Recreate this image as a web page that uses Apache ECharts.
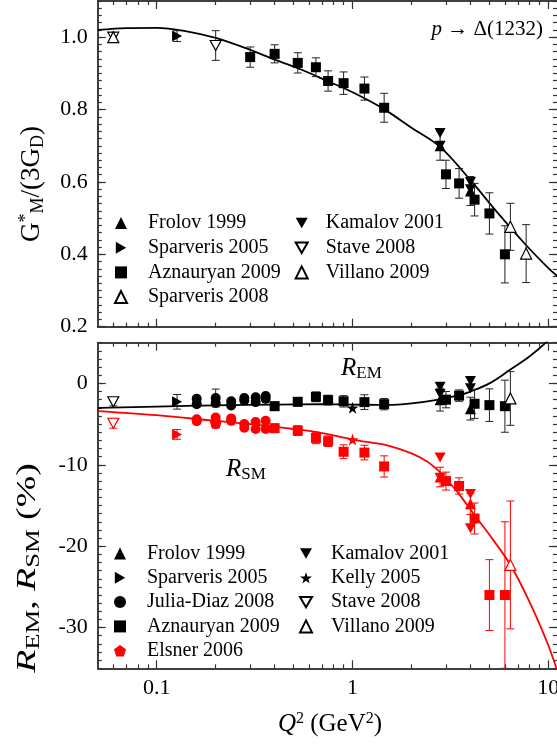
<!DOCTYPE html>
<html><head><meta charset="utf-8">
<script src="https://cdn.jsdelivr.net/npm/echarts@6/dist/echarts.min.js"></script>
<style>html,body{margin:0;padding:0;background:#fff}#c{width:557px;height:749px}</style>
</head><body><div id="c"></div>
<script>
// ---------- tick values ----------
const xMajorTicks = [0.1, 1, 10];
const xMinorTicks = [0.06,0.07,0.08,0.09,0.2,0.3,0.4,0.5,0.6,0.7,0.8,0.9,2,3,4,5,6,7,8,9];
const gmTickLabels = [0.2, 0.4, 0.6, 0.8, 1.0];
const rTickLabels = [-30, -20, -10, 0];

// ---------- top panel: G*_M/(3G_D) ----------
const frolovGM_Q = [2.8, 4.0];
const frolovGM = [0.70, 0.575];
const frolovGM_err = [0.04, 0.04];
const kamalovGM_Q = [2.8, 2.8, 4.0, 4.0];
const kamalovGM = [0.735, 0.70, 0.60, 0.58];
const sparv05GM_Q = [0.127];
const sparv05GM = [1.003];
const sparv05GM_err = [0.015];
const staveGM_Q = [0.06, 0.2];
const staveGM = [1.0, 0.977];
const staveGM_err = [0.012, 0.041];
const aznGM_Q = [0.3, 0.4, 0.525, 0.65, 0.75, 0.9, 1.15, 1.45, 3.0, 3.5, 4.2, 5.0, 6.0];
const aznGM = [0.945, 0.954, 0.929, 0.917, 0.879, 0.873, 0.858, 0.805, 0.621, 0.596, 0.551, 0.513, 0.40];
const aznGM_err = [0.028, 0.025, 0.028, 0.026, 0.028, 0.031, 0.032, 0.04, 0.039, 0.041, 0.045, 0.057, 0.079];
const villanoGM_Q = [6.4, 7.7];
const villanoGM = [0.476, 0.402];
const villanoGM_err = [0.065, 0.08];
const sparv08GM_Q = [0.06];
const sparv08GM = [1.0];
const sparv08GM_err = [0.012];
const gmCurveQ = [0.05, 0.07, 0.1, 0.14, 0.2, 0.3, 0.4, 0.55, 0.75, 1.0, 1.4, 2.0, 2.8, 4.0, 5.5, 7.5, 10, 12];
const gmCurve = [1.020, 1.025, 1.026, 1.017, 0.998, 0.965, 0.938, 0.910, 0.878, 0.848, 0.806, 0.750, 0.697, 0.605, 0.515, 0.432, 0.362, 0.325];

// ---------- bottom panel: R_EM (black), R_SM (red) ----------
const frolovR_Q = [2.8, 4.0];
const frolovREM = [-2.0, -3.1];
const frolovREM_err = [1.4, 1.4];
const frolovRSM = [-11.5, -14.8];
const frolovRSM_err = [1.2, 1.3];
const kamalovR_Q = [2.8, 2.8, 4.0, 4.0];
const kamalovREM = [-0.4, -1.3, 0.3, -0.6];
const kamalovRSM = [-9.1, -11.6, -13.6, -17.8];
const sparv05R_Q = [0.127];
const sparv05REM = [-2.26];
const sparv05REM_err = [0.9];
const sparv05RSM = [-6.27];
const sparv05RSM_err = [0.6];
const juliaR_Q = [0.16, 0.16, 0.2, 0.2, 0.24, 0.24, 0.28, 0.28, 0.32, 0.32, 0.36, 0.36];
const juliaREM = [-1.9, -2.55, -1.8, -2.4, -2.2, -2.7, -1.8, -2.1, -1.7, -2.3, -1.55, -1.9];
const juliaREM_err = [0, 0, 1.1, 0, 0, 0, 0, 0, 0, 0, 0, 0];
const juliaRSM = [-4.4, -4.65, -4.2, -5.0, -4.3, -4.6, -5.0, -5.45, -4.75, -5.6, -4.6, -5.6];
const aznR_Q = [0.4, 0.525, 0.65, 0.75, 0.9, 1.15, 1.45, 3.0, 3.5, 4.2, 5.0, 6.0];
const aznREM = [-2.8, -2.26, -1.65, -2.05, -2.2, -2.3, -2.55, -2.0, -1.5, -2.5, -2.67, -2.8];
const aznREM_err = [0.5, 0.5, 0.6, 0.6, 0.7, 0.9, 0.7, 1.0, 0.7, 1.8, 2.0, 3.2];
const aznRSM = [-5.5, -5.8, -6.7, -7.1, -8.4, -8.5, -10.2, -12.0, -12.6, -16.6, -26.0, -26.0];
const aznRSM_err = [0.5, 0.6, 0.7, 0.65, 0.85, 0.9, 1.3, 1.1, 1.0, 1.9, 4.35, 9.0];
const kellyR_Q = [1.0];
const kellyREM = [-3.0];
const kellyRSM = [-6.9];
const staveR_Q = [0.06];
const staveREM = [-2.26];
const staveREM_err = [0.5];
const staveRSM = [-4.9];
const staveRSM_err = [0.6];
const villanoR_Q = [6.4];
const villanoREM = [-1.85];
const villanoREM_err = [3.3];
const villanoRSM = [-22.3];
const villanoRSM_err = [7.85];
const elsnerR_Q = [0.2];
const elsnerRSM = [-4.8];
const elsnerRSM_err = [0.4];
const remCurveQ = [0.05, 0.1, 0.2, 0.4, 0.7, 1.0, 1.5, 2.0, 2.8, 3.5, 4.0, 5.0, 6.4, 8.0, 10, 12];
const remCurve = [-3.0, -2.85, -2.7, -2.6, -2.55, -2.6, -2.65, -2.45, -1.95, -1.45, -1.0, 0.0, 1.7, 3.3, 5.3, 7.3];
const rsmCurveQ = [0.05, 0.1, 0.2, 0.3, 0.5, 0.7, 1.0, 1.5, 2.0, 2.4, 2.8, 3.0, 3.5, 4.2, 5.0, 6.4, 8.0, 10, 12];
const rsmCurve = [-3.4, -3.9, -4.6, -5.0, -5.6, -6.1, -6.9, -7.6, -8.6, -9.6, -10.9, -11.7, -13.6, -16.2, -18.6, -22.3, -26.8, -32.2, -37.8];

// ---------- styling ----------
const RED = '#ff0000', BLK = '#000000', AX = '#333333';
const SERIF = "'Liberation Serif', 'DejaVu Serif', serif";
const X_MIN = 0.05, X_MAX = 11.07;
const SYM = {
  down: 'path://M0,0 L10,0 L5,8.66 Z',
  right: 'path://M0,0 L8.66,5 L0,10 Z',
  star: 'path://M50,0 L61.8,35.1 L98.1,35.1 L68.8,56.7 L79.4,90.9 L50,69.6 L20.6,90.9 L31.2,56.7 L1.9,35.1 L38.2,35.1 Z',
  pent: 'path://M50,0 L97.6,34.5 L79.4,90.5 L20.6,90.5 L2.4,34.5 Z'
};

function pts(q, v, style) {
  return q.map((x, i) => style ? { value: [x, v[i]], itemStyle: style } : [x, v[i]]);
}
function bars(q, v, e, flag) {
  const out = [];
  q.forEach((x, i) => { if (e[i] > 0) out.push([x, v[i] - e[i], v[i] + e[i], flag]); });
  return out;
}

const filled = c => ({ color: c, opacity: 1 });
const open = c => ({ color: '#ffffff', borderColor: c, borderWidth: 1.2, opacity: 1 });

function scatter(name, g, symbol, size, itemStyle, data) {
  return { type: 'scatter', name, xAxisIndex: g * 4, yAxisIndex: g * 4, symbol, symbolSize: size,
    itemStyle, data, z: 5, emphasis: { disabled: true } };
}
function curve(g, q, v, color) {
  return { type: 'line', xAxisIndex: g * 4, yAxisIndex: g * 4, data: pts(q, v), showSymbol: false,
    symbol: 'none', smooth: 0.35, lineStyle: { color, width: 1.8 }, z: 2, silent: true };
}
function errSeries(g, data) {
  return { type: 'custom', xAxisIndex: g * 4, yAxisIndex: g * 4, data, z: 3, clip: true, silent: true,
    encode: { x: 0, y: [1, 2] },
    renderItem(params, api) {
      const x = api.value(0);
      const lo = api.coord([x, api.value(1)]);
      const hi = api.coord([x, api.value(2)]);
      const stroke = api.value(3) ? RED : '#222';
      const w = 4;
      const st = { stroke, lineWidth: 1 };
      return { type: 'group', children: [
        { type: 'line', shape: { x1: lo[0], y1: lo[1], x2: hi[0], y2: hi[1] }, style: st },
        { type: 'line', shape: { x1: lo[0] - w, y1: lo[1], x2: lo[0] + w, y2: lo[1] }, style: st },
        { type: 'line', shape: { x1: hi[0] - w, y1: hi[1], x2: hi[0] + w, y2: hi[1] }, style: st }
      ]};
    }
  };
}

function xAx(g, position, ticks, len, showLabel) {
  return { type: 'log', logBase: 10, gridIndex: g, position, min: X_MIN, max: X_MAX,
    axisLine: { show: true, onZero: false, lineStyle: { color: AX, width: 1.5 } },
    axisTick: { show: true, inside: true, length: len, customValues: ticks, lineStyle: { color: AX, width: 1.2 } },
    axisLabel: { show: showLabel, customValues: ticks, margin: 9, fontFamily: SERIF, fontSize: 22, color: BLK,
      hideOverlap: false, formatter: v => String(+v) },
    splitLine: { show: false } };
}
function yAx(g, position, min, max, ticks, interval, len, showLabel) {
  const ax = { type: 'value', gridIndex: g, position, min, max,
    axisLine: { show: position === 'left', onZero: false, lineStyle: { color: AX, width: 1.5 } },
    axisTick: { show: true, inside: true, length: len, lineStyle: { color: AX, width: 1.2 } },
    axisLabel: { show: showLabel, margin: 10, fontFamily: SERIF, fontSize: 22, color: BLK,
      formatter: v => (min >= 0 ? (+v).toFixed(1) : String(Math.round(v))) },
    splitLine: { show: false } };
  if (ticks) { ax.axisTick.customValues = ticks; ax.axisLabel.customValues = ticks; }
  if (interval) { ax.interval = interval; }
  return ax;
}

const xAxis = [];
const yAxis = [];
[0, 1].forEach(g => {
  xAxis.push(xAx(g, 'bottom', xMajorTicks, 8, g === 1));
  xAxis.push(xAx(g, 'bottom', xMinorTicks, 4, false));
  xAxis.push(xAx(g, 'top', xMajorTicks, 8, false));
  xAxis.push(xAx(g, 'top', xMinorTicks, 4, false));
});
yAxis.push(yAx(0, 'left', 0.2, 1.1, gmTickLabels, null, 8, true));
yAxis.push(yAx(0, 'left', 0.2, 1.1, null, 0.02, 4, false));
yAxis.push(yAx(0, 'right', 0.2, 1.1, gmTickLabels, null, 8, false));
yAxis.push(yAx(0, 'right', 0.2, 1.1, null, 0.02, 4, false));
yAxis.push(yAx(1, 'left', -35, 5, rTickLabels, null, 8, true));
yAxis.push(yAx(1, 'left', -35, 5, null, 1, 4, false));
yAxis.push(yAx(1, 'right', -35, 5, rTickLabels, null, 8, false));
yAxis.push(yAx(1, 'right', -35, 5, null, 1, 4, false));

const series = [
  // top panel
  curve(0, gmCurveQ, gmCurve, BLK),
  errSeries(0, [].concat(
    bars(frolovGM_Q, frolovGM, frolovGM_err, 0),
    bars(sparv05GM_Q, sparv05GM, sparv05GM_err, 0),
    bars(staveGM_Q, staveGM, staveGM_err, 0),
    bars(aznGM_Q, aznGM, aznGM_err, 0),
    bars(villanoGM_Q, villanoGM, villanoGM_err, 0),
    bars(sparv08GM_Q, sparv08GM, sparv08GM_err, 0))),
  scatter('Frolov 1999', 0, 'triangle', 11, filled(BLK), pts(frolovGM_Q, frolovGM)),
  scatter('Kamalov 2001', 0, SYM.down, [11, 10], filled(BLK), pts(kamalovGM_Q, kamalovGM)),
  scatter('Sparveris 2005', 0, SYM.right, [10, 11], filled(BLK), pts(sparv05GM_Q, sparv05GM)),
  scatter('Stave 2008', 0, SYM.down, [11, 10], open(BLK), pts(staveGM_Q, staveGM)),
  scatter('Aznauryan 2009', 0, 'rect', 10, filled(BLK), pts(aznGM_Q, aznGM)),
  scatter('Villano 2009', 0, 'triangle', 11, open(BLK), pts(villanoGM_Q, villanoGM)),
  scatter('Sparveris 2008', 0, 'triangle', 11, open(BLK), pts(sparv08GM_Q, sparv08GM)),
  // bottom panel
  curve(1, remCurveQ, remCurve, BLK),
  curve(1, rsmCurveQ, rsmCurve, RED),
  errSeries(1, [].concat(
    bars(frolovR_Q, frolovREM, frolovREM_err, 0),
    bars(frolovR_Q, frolovRSM, frolovRSM_err, 1),
    bars(sparv05R_Q, sparv05REM, sparv05REM_err, 0),
    bars(sparv05R_Q, sparv05RSM, sparv05RSM_err, 1),
    bars(juliaR_Q, juliaREM, juliaREM_err, 0),
    bars(aznR_Q, aznREM, aznREM_err, 0),
    bars(aznR_Q, aznRSM, aznRSM_err, 1),
    bars(staveR_Q, staveREM, staveREM_err, 0),
    bars(staveR_Q, staveRSM, staveRSM_err, 1),
    bars(villanoR_Q, villanoREM, villanoREM_err, 0),
    bars(villanoR_Q, villanoRSM, villanoRSM_err, 1),
    bars(elsnerR_Q, elsnerRSM, elsnerRSM_err, 1))),
  scatter('Frolov 1999', 1, 'triangle', 11, filled(BLK),
    pts(frolovR_Q, frolovREM).concat(pts(frolovR_Q, frolovRSM, filled(RED)))),
  scatter('Kamalov 2001', 1, SYM.down, [11, 10], filled(BLK),
    pts(kamalovR_Q, kamalovREM).concat(pts(kamalovR_Q, kamalovRSM, filled(RED)))),
  scatter('Sparveris 2005', 1, SYM.right, [10, 11], filled(BLK),
    pts(sparv05R_Q, sparv05REM).concat(pts(sparv05R_Q, sparv05RSM, filled(RED)))),
  scatter('Kelly 2005', 1, SYM.star, 12, filled(BLK),
    pts(kellyR_Q, kellyREM).concat(pts(kellyR_Q, kellyRSM, filled(RED)))),
  scatter('Julia-Diaz 2008', 1, 'circle', 10, filled(BLK),
    pts(juliaR_Q, juliaREM).concat(pts(juliaR_Q, juliaRSM, filled(RED)))),
  scatter('Stave 2008', 1, SYM.down, [11, 10], open(BLK),
    pts(staveR_Q, staveREM).concat(pts(staveR_Q, staveRSM, open(RED)))),
  scatter('Aznauryan 2009', 1, 'rect', 10, filled(BLK),
    pts(aznR_Q, aznREM).concat(pts(aznR_Q, aznRSM, filled(RED)))),
  scatter('Villano 2009', 1, 'triangle', 11, open(BLK),
    pts(villanoR_Q, villanoREM).concat(pts(villanoR_Q, villanoRSM, open(RED)))),
  scatter('Elsner 2006', 1, SYM.pent, 12, filled(RED), pts(elsnerR_Q, elsnerRSM))
];

function legend(names, left, top, pad, gap) {
  return { data: names, orient: 'vertical', left, top, padding: 0, itemWidth: 12, itemHeight: 12, itemGap: gap,
    selectedMode: false,
    textStyle: { fontFamily: SERIF, fontSize: 20, color: BLK, lineHeight: 20, padding: [0, 0, 0, pad] } };
}

const option = {
  animation: false,
  backgroundColor: '#ffffff',
  grid: [
    { left: 97.8, top: 1, right: 0, height: 325.7, outerBoundsMode: 'none', containLabel: false },
    { left: 97.8, top: 342.7, right: 0, height: 325.6, outerBoundsMode: 'none', containLabel: false }
  ],
  xAxis, yAxis, series,
  legend: [
    legend(['Frolov 1999', 'Sparveris 2005', 'Aznauryan 2009', 'Sparveris 2008'], 114, 213, 16, 4.7),
    legend(['Kamalov 2001', 'Stave 2008', 'Villano 2009'], 294.7, 213, 13, 4.7),
    legend(['Frolov 1999', 'Sparveris 2005', 'Julia-Diaz 2008', 'Aznauryan 2009', 'Elsner 2006'], 114, 543.5, 16, 4.3),
    legend(['Kamalov 2001', 'Kelly 2005', 'Stave 2008', 'Villano 2009'], 299, 543.5, 14, 4.3)
  ],
  graphic: [
    { type: 'text', x: 32, y: 184, rotation: Math.PI / 2, silent: true,
      style: { text: '{n|G}{sup|*}{sub|M}{n|/(3G}{sub|D}{n|)}', align: 'center', verticalAlign: 'middle',
        rich: { n: { fontFamily: SERIF, fontSize: 27, color: BLK },
                sup: { fontFamily: SERIF, fontSize: 18, color: BLK, padding: [0, 0, 12, 0] },
                sub: { fontFamily: SERIF, fontSize: 18, color: BLK, padding: [12, 0, 0, 0] } } } },
    { type: 'text', x: 28, y: 568, rotation: Math.PI / 2, scaleX: 1.4, silent: true,
      style: { text: '{i|R}{sub|EM}{n|, }{i|R}{sub|SM}{n| (%)}', align: 'center', verticalAlign: 'middle',
        rich: { n: { fontFamily: SERIF, fontSize: 27, color: BLK },
                i: { fontFamily: SERIF, fontSize: 27, fontStyle: 'italic', color: BLK },
                sub: { fontFamily: SERIF, fontSize: 19, color: BLK, padding: [12, 0, 0, 0] } } } },
    { type: 'text', x: 330, y: 724, silent: true,
      style: { text: '{i|Q}{sup|2}{n| (GeV}{sup|2}{n|)}', align: 'center', verticalAlign: 'middle',
        rich: { n: { fontFamily: SERIF, fontSize: 25, color: BLK },
                i: { fontFamily: SERIF, fontSize: 25, fontStyle: 'italic', color: BLK },
                sup: { fontFamily: SERIF, fontSize: 16, color: BLK, padding: [0, 0, 10, 0] } } } },
    { type: 'text', x: 543, y: 29, silent: true,
      style: { text: '{i|p}{n| \u2192 \u0394(1232)}', align: 'right', verticalAlign: 'middle',
        rich: { n: { fontFamily: SERIF, fontSize: 21, color: BLK },
                i: { fontFamily: SERIF, fontSize: 21, fontStyle: 'italic', color: BLK } } } },
    { type: 'text', x: 341, y: 368, silent: true,
      style: { text: '{i|R}{sub|EM}', align: 'left', verticalAlign: 'middle',
        rich: { i: { fontFamily: SERIF, fontSize: 25, fontStyle: 'italic', color: BLK },
                sub: { fontFamily: SERIF, fontSize: 17, color: BLK, padding: [12, 0, 0, 0] } } } },
    { type: 'text', x: 226, y: 469, silent: true,
      style: { text: '{i|R}{sub|SM}', align: 'left', verticalAlign: 'middle',
        rich: { i: { fontFamily: SERIF, fontSize: 25, fontStyle: 'italic', color: RED },
                sub: { fontFamily: SERIF, fontSize: 17, color: RED, padding: [12, 0, 0, 0] } } } }
  ]
};

const chart = echarts.init(document.getElementById('c'), null, { renderer: 'canvas' });
chart.setOption(option);
</script>
</body></html>
